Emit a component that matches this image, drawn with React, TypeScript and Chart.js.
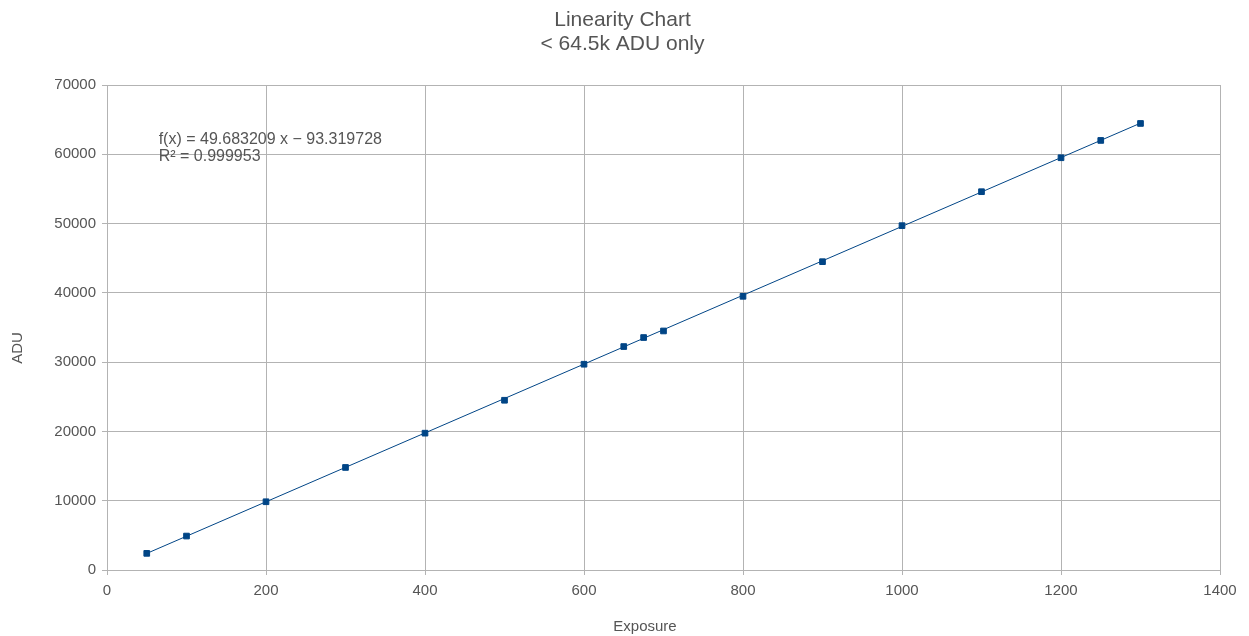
import React, { useEffect, useRef } from "react";
import { Chart, registerables } from "chart.js";

Chart.register(...registerables);

const exposures = [50, 100, 200, 300, 400, 500, 600, 650, 675, 700, 800, 900, 1000, 1100, 1200, 1250, 1300];
const aduValues = [2400, 4900, 9850, 14800, 19750, 24500, 29700, 32250, 33550, 34500, 39500, 44500, 49700, 54600, 59500, 62000, 64450];
const trendX = [50, 1300];
const trendY = [2391, 64495];
const titleLines = ["Linearity Chart", "< 64.5k ADU only"];
const equationLines = ["f(x) = 49.683209 x \u2212 93.319728", "R\u00B2 = 0.999953"];
const equationAnchor = { x: 65, y: 62100 };
const xTitle = "Exposure";
const yTitle = "ADU";

const FONT = "'Liberation Sans', Arial, sans-serif";
const BLUE = "#004586";
const GRID = "#b3b3b3";
const TEXT = "#555555";

const overlayPlugin = {
  id: "overlay",
  afterDraw(chart: any) {
    const ctx = chart.ctx;
    ctx.save();
    ctx.fillStyle = TEXT;
    ctx.textAlign = "center";
    ctx.textBaseline = "middle";
    ctx.font = `21px ${FONT}`;
    const cx = chart.width / 2 - 2;
    titleLines.forEach((t, i) => ctx.fillText(t, cx, 20 + i * 24));
    ctx.font = `15px ${FONT}`;
    ctx.fillText(xTitle, 645, 627);
    ctx.save();
    ctx.translate(18, 348);
    ctx.rotate(-Math.PI / 2);
    ctx.fillText(yTitle, 0, 0);
    ctx.restore();
    const xs = chart.scales.x;
    const ys = chart.scales.y;
    const px = xs.getPixelForValue(equationAnchor.x);
    const py = ys.getPixelForValue(equationAnchor.y);
    ctx.textAlign = "left";
    ctx.font = `16px ${FONT}`;
    equationLines.forEach((t, i) => ctx.fillText(t, px, py + i * 17));
    ctx.restore();
  },
};

export default function App() {
  const ref = useRef<HTMLCanvasElement>(null);
  useEffect(() => {
    if (!ref.current) return;
    const chart = new Chart(ref.current, {
      type: "scatter",
      data: {
        datasets: [
          {
            label: "Trend",
            data: trendX.map((x, i) => ({ x, y: trendY[i] })),
            showLine: true,
            borderColor: BLUE,
            borderWidth: 1,
            pointRadius: 0,
            fill: false,
          },
          {
            label: "ADU",
            data: exposures.map((x, i) => ({ x, y: aduValues[i] })),
            pointStyle: "rect",
            pointRadius: 4,
            pointBorderWidth: 1,
            pointBackgroundColor: BLUE,
            pointBorderColor: BLUE,
            showLine: false,
          },
        ],
      },
      options: {
        animation: false,
        responsive: true,
        maintainAspectRatio: false,
        layout: { padding: { top: 85, right: 29, bottom: 0, left: 0 } },
        plugins: { legend: { display: false }, tooltip: { enabled: false }, title: { display: false } },
        scales: {
          x: {
            type: "linear",
            min: 0,
            max: 1400,
            ticks: { stepSize: 200, color: TEXT, font: { family: FONT, size: 15 }, padding: 7, maxRotation: 0, callback: (v: any) => String(v) },
            grid: { color: GRID, tickLength: 5, tickColor: GRID },
            border: { color: GRID, width: 1 },
            title: { display: false },
            afterFit: (s: any) => { s.height = 66; },
          },
          y: {
            type: "linear",
            min: 0,
            max: 70000,
            ticks: { stepSize: 10000, color: TEXT, font: { family: FONT, size: 15 }, padding: 6, callback: (v: any) => String(v) },
            grid: { color: GRID, tickLength: 5, tickColor: GRID },
            border: { color: GRID, width: 1 },
            title: { display: false },
            afterFit: (s: any) => { s.width = 107; },
          },
        },
      },
      plugins: [overlayPlugin],
    });
    return () => chart.destroy();
  }, []);
  return (
    <div style={{ position: "fixed", left: 0, top: 0, width: 1249, height: 636, background: "#fff" }}>
      <canvas ref={ref} />
    </div>
  );
}
